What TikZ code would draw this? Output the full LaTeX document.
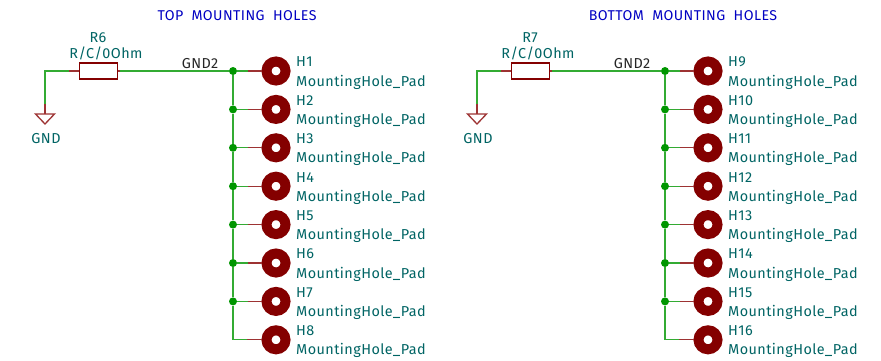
\documentclass[tikz,border=0pt]{standalone}
\usepackage{fontspec}
\setmainfont{Fira Sans}[LetterSpace=3]
\usetikzlibrary{positioning,calc}
\definecolor{wirecol}{RGB}{0,150,0}
\definecolor{pincol}{RGB}{132,0,0}
\definecolor{textcol}{RGB}{0,100,100}
\definecolor{titlecol}{RGB}{0,0,194}
\tikzset{
  wire/.style={draw=wirecol!80!white, line width=1.3pt},
  pinline/.style={draw=pincol!80!white, line width=1.3pt},
  pad/.style={circle, draw=pincol, fill=white, line width=10pt, minimum size=19pt, inner sep=0pt},
  junction/.style={circle, fill=wirecol, minimum size=8pt, inner sep=0pt, node distance=43pt},
  body/.style={rectangle, draw=pincol, fill=white, line width=1.8pt, minimum width=38pt, minimum height=15.5pt, inner sep=0pt},
  part/.style={text=textcol, font=\fontsize{14.4}{19.2}\selectfont, inner sep=0pt},
  hole/.style={part, align=left, anchor=west, node distance=34.5pt},
  netname/.style={text=black!85, font=\fontsize{14.4}{16}\selectfont, inner sep=0pt},
  heading/.style={text=titlecol, font=\fontsize{14.2}{16}\selectfont, inner sep=0pt},
}

\begin{document}
\begin{tikzpicture}[x=1pt, y=-1pt, node distance=38.4pt]
        \useasboundingbox (0,0) rectangle (881,361);
        \node[heading] (title1) at (237,16) {TOP\ \ MOUNTING\ \ HOLES};
        \node[heading] (title2) at (683,16) {BOTTOM\ \ MOUNTING\ \ HOLES};

        % top holes
        \node[pad] (h1) at (276,71) {};
        \node[pad] [below of=h1] (h2) {};
        \node[pad] [below of=h2] (h3) {};
        \node[pad] [below of=h3] (h4) {};
        \node[pad] [below of=h4] (h5) {};
        \node[pad] [below of=h5] (h6) {};
        \node[pad] [below of=h6] (h7) {};
        \node[pad] [below of=h7] (h8) {};
        \node[hole] at ($(h1)+(20,2)$) (t1) {H1\\MountingHole\_Pad};
        \node[hole] at ($(h2)+(20,2)$) (t2) {H2\\MountingHole\_Pad};
        \node[hole] at ($(h3)+(20,2)$) (t3) {H3\\MountingHole\_Pad};
        \node[hole] at ($(h4)+(20,2)$) (t4) {H4\\MountingHole\_Pad};
        \node[hole] at ($(h5)+(20,2)$) (t5) {H5\\MountingHole\_Pad};
        \node[hole] at ($(h6)+(20,2)$) (t6) {H6\\MountingHole\_Pad};
        \node[hole] at ($(h7)+(20,2)$) (t7) {H7\\MountingHole\_Pad};
        \node[hole] at ($(h8)+(20,2)$) (t8) {H8\\MountingHole\_Pad};
        \node[junction] [left of=h1] (j1) {};
        \node[junction] [left of=h2] (j2) {};
        \node[junction] [left of=h3] (j3) {};
        \node[junction] [left of=h4] (j4) {};
        \node[junction] [left of=h5] (j5) {};
        \node[junction] [left of=h6] (j6) {};
        \node[junction] [left of=h7] (j7) {};
        \node[body] (r6) at (98.5,71) {};
        \coordinate (c6) at (45,71);
        \coordinate (gnd6) at (45,114);
        \node[part] at (98,38) (r6ref) {R6};
        \node[part] at (106,53) (r6val) {R/C/0Ohm};
        \node[netname] at (200,64) (net6) {GND2};
        \node[part] at (46,139) (gnd6text) {GND};

        \path[wire] (j1) edge (h1) (j2) edge (h2) (j3) edge (h3) (j4) edge (h4)
        (j5) edge (h5) (j6) edge (h6) (j7) edge (h7)
        (j1) edge (j2) (j2) edge (j3) (j3) edge (j4) (j4) edge (j5) (j5) edge (j6) (j6) edge (j7)
        (r6) edge (j1);
        \draw[wire] (j7) |- (h8);
        \draw[wire] (r6) -- (c6) -- (gnd6);
        \path[pinline, shorten >=10.5pt]
        (h1) edge (j1) (h2) edge (j2) (h3) edge (j3) (h4) edge (j4)
        (h5) edge (j5) (h6) edge (j6) (h7) edge (j7);
        \draw[pinline] (h8.west) -- ++(-15,0);
        \draw[pinline, shorten >=24pt] (r6) -- (c6);
        \draw[pinline, shorten >=108.5pt] (r6) -- (j1);
        \draw[pinline, shorten >=33pt] (gnd6) -- (c6);
        \draw[pinline] (gnd6) -- ++(-9.5,0) -- ++(9.5,10) -- ++(9.5,-10) -- cycle;

        % bottom holes
        \node[pad] (h9) at (708,71) {};
        \node[pad] [below of=h9] (h10) {};
        \node[pad] [below of=h10] (h11) {};
        \node[pad] [below of=h11] (h12) {};
        \node[pad] [below of=h12] (h13) {};
        \node[pad] [below of=h13] (h14) {};
        \node[pad] [below of=h14] (h15) {};
        \node[pad] [below of=h15] (h16) {};
        \node[hole] at ($(h9)+(20,2)$) (t9) {H9\\MountingHole\_Pad};
        \node[hole] at ($(h10)+(20,2)$) (t10) {H10\\MountingHole\_Pad};
        \node[hole] at ($(h11)+(20,2)$) (t11) {H11\\MountingHole\_Pad};
        \node[hole] at ($(h12)+(20,2)$) (t12) {H12\\MountingHole\_Pad};
        \node[hole] at ($(h13)+(20,2)$) (t13) {H13\\MountingHole\_Pad};
        \node[hole] at ($(h14)+(20,2)$) (t14) {H14\\MountingHole\_Pad};
        \node[hole] at ($(h15)+(20,2)$) (t15) {H15\\MountingHole\_Pad};
        \node[hole] at ($(h16)+(20,2)$) (t16) {H16\\MountingHole\_Pad};
        \node[junction] [left of=h9] (j9) {};
        \node[junction] [left of=h10] (j10) {};
        \node[junction] [left of=h11] (j11) {};
        \node[junction] [left of=h12] (j12) {};
        \node[junction] [left of=h13] (j13) {};
        \node[junction] [left of=h14] (j14) {};
        \node[junction] [left of=h15] (j15) {};
        \node[body] (r7) at (530.5,71) {};
        \coordinate (c7) at (477,71);
        \coordinate (gnd7) at (477,114);
        \node[part] at (530,38) (r7ref) {R7};
        \node[part] at (538,53) (r7val) {R/C/0Ohm};
        \node[netname] at (632,64) (net7) {GND2};
        \node[part] at (478,139) (gnd7text) {GND};

        \path[wire] (j9) edge (h9) (j10) edge (h10) (j11) edge (h11) (j12) edge (h12)
        (j13) edge (h13) (j14) edge (h14) (j15) edge (h15)
        (j9) edge (j10) (j10) edge (j11) (j11) edge (j12) (j12) edge (j13) (j13) edge (j14) (j14) edge (j15)
        (r7) edge (j9);
        \draw[wire] (j15) |- (h16);
        \draw[wire] (r7) -- (c7) -- (gnd7);
        \path[pinline, shorten >=10.5pt]
        (h9) edge (j9) (h10) edge (j10) (h11) edge (j11) (h12) edge (j12)
        (h13) edge (j13) (h14) edge (j14) (h15) edge (j15);
        \draw[pinline] (h16.west) -- ++(-15,0);
        \draw[pinline, shorten >=24pt] (r7) -- (c7);
        \draw[pinline, shorten >=108.5pt] (r7) -- (j9);
        \draw[pinline, shorten >=33pt] (gnd7) -- (c7);
        \draw[pinline] (gnd7) -- ++(-9.5,0) -- ++(9.5,10) -- ++(9.5,-10) -- cycle;
\end{tikzpicture}
\end{document}
